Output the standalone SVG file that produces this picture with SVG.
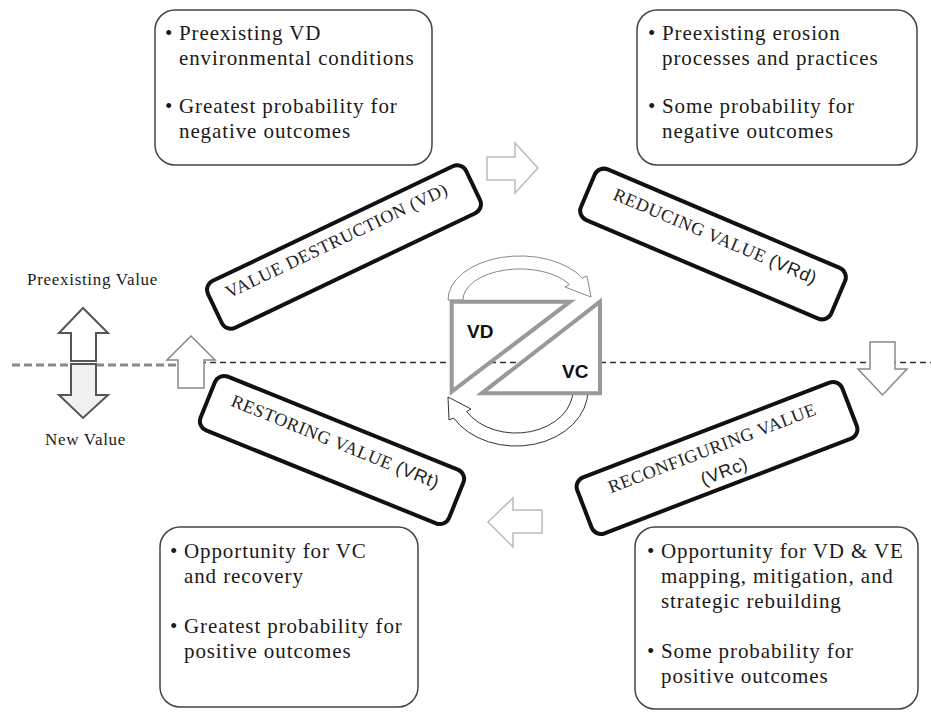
<svg xmlns="http://www.w3.org/2000/svg" width="931" height="712" viewBox="0 0 931 712">
<style>
.tb{fill:#fff;stroke:#444;stroke-width:1.5}
.t{font-family:"Liberation Serif","Times New Roman",serif;font-size:21px;letter-spacing:0.9px;fill:#1a1a1a}
.sb{fill:#fff;stroke:#111;stroke-width:4}
.st{font-family:"Liberation Serif","Times New Roman",serif;font-size:18px;letter-spacing:0.6px;fill:#222;text-anchor:middle}
.ss{font-family:"Liberation Sans",Arial,sans-serif}
.lab{font-family:"Liberation Serif","Times New Roman",serif;font-size:17px;letter-spacing:0.7px;fill:#1a1a1a}
.z{fill:#fff;stroke:#999;stroke-width:4;stroke-linejoin:miter}
.zt{font-family:"Liberation Sans",Arial,sans-serif;font-size:19px;font-weight:bold;fill:#111}
.ha{fill:#fff;stroke-width:1.5}
</style>
<rect width="931" height="712" fill="#fff"/>

<!-- baseline dashed lines -->
<g id="baseline">
<line x1="12" y1="365" x2="178" y2="365" stroke="#888" stroke-width="3" stroke-dasharray="8,4"/>
<line x1="180" y1="362.5" x2="931" y2="362.5" stroke="#333" stroke-width="1.5" stroke-dasharray="6,4"/>
</g>

<!-- text boxes -->
<g id="box-vd-conditions">
<rect class="tb" x="155" y="10" width="277" height="155" rx="20"/>
<text class="t" x="165" y="40">•</text><text class="t" x="179" y="40">Preexisting VD</text>
<text class="t" x="179" y="65">environmental conditions</text>
<text class="t" x="165" y="113">•</text><text class="t" x="179" y="113">Greatest probability for</text>
<text class="t" x="179" y="138">negative outcomes</text>
</g>
<g id="box-erosion">
<rect class="tb" x="637" y="10" width="280" height="155" rx="20"/>
<text class="t" x="648" y="40">•</text><text class="t" x="662" y="40">Preexisting erosion</text>
<text class="t" x="662" y="65">processes and practices</text>
<text class="t" x="648" y="113">•</text><text class="t" x="662" y="113">Some probability for</text>
<text class="t" x="662" y="138">negative outcomes</text>
</g>
<g id="box-recovery">
<rect class="tb" x="160" y="527" width="258" height="180" rx="20"/>
<text class="t" x="170" y="558">•</text><text class="t" x="184" y="558">Opportunity for VC</text>
<text class="t" x="184" y="583">and recovery</text>
<text class="t" x="170" y="633">•</text><text class="t" x="184" y="633">Greatest probability for</text>
<text class="t" x="184" y="658">positive outcomes</text>
</g>
<g id="box-rebuilding">
<rect class="tb" x="635" y="527" width="283" height="182" rx="20"/>
<text class="t" x="647" y="558">•</text><text class="t" x="661" y="558">Opportunity for VD &amp; VE</text>
<text class="t" x="661" y="583">mapping, mitigation, and</text>
<text class="t" x="661" y="608">strategic rebuilding</text>
<text class="t" x="647" y="658">•</text><text class="t" x="661" y="658">Some probability for</text>
<text class="t" x="661" y="683">positive outcomes</text>
</g>

<!-- stage boxes -->
<g id="stage-vd" transform="translate(344,247) rotate(-25.5)">
<rect class="sb" x="-143" y="-26" width="286" height="52" rx="10"/>
<text class="st" x="-4" y="-3">VALUE DESTRUCTION (VD)</text>
</g>
<g id="stage-vrd" transform="translate(713,244) rotate(23)">
<rect class="sb" x="-136" y="-27.5" width="272" height="55" rx="10"/>
<text class="st" x="-1" y="-2">REDUCING VALUE <tspan class="ss">(VRd)</tspan></text>
</g>
<g id="stage-vrt" transform="translate(332,450) rotate(22)">
<rect class="sb" x="-134" y="-29" width="268" height="58" rx="10"/>
<text class="st" x="0" y="-3">RESTORING VALUE <tspan class="ss">(VRt)</tspan></text>
</g>
<g id="stage-vrc" transform="translate(717,458) rotate(-21)">
<rect class="sb" x="-142" y="-30" width="284" height="60" rx="10"/>
<text class="st" x="-1" y="-5">RECONFIGURING VALUE</text>
<text class="st ss" x="2" y="21">(VRc)</text>
</g>

<!-- connectors: hollow arrows and cycle arcs -->
<g id="connectors">
<path class="ha" stroke="#bbb" d="M487,157 L515,157 L515,143 L538,168 L515,193 L515,180 L487,180 Z"/>
<path class="ha" stroke="#888" stroke-width="2" d="M870,342 L895,342 L895,369 L907,369 L882.5,395 L858,369 L870,369 Z"/>
<path class="ha" stroke="#bbb" d="M542,510 L513,510 L513,498 L488,522 L513,547 L513,533 L542,533 Z"/>
<path class="ha" stroke="#888" stroke-width="2" d="M178,388 L178,360 L167,360 L191,336 L215,360 L204,360 L204,388 Z"/>
<path fill="#fff" stroke="#555" stroke-width="2" d="M71,361 L71,333 L59,333 L83,308 L108,333 L96,333 L96,361 Z"/>
<path fill="#f0f0f0" stroke="#555" stroke-width="2" d="M71,364 L96,364 L96,395 L108,395 L83,418 L59,395 L71,395 Z"/>
<path fill="#fff" stroke="#888" stroke-width="1" d="M448,300 A72,44 0 0 1 582.4,278 L587,276 L591,297 L565,287 L569.4,284.5 A57,31 0 0 0 463,300 Z"/>
<path fill="#fff" stroke="#333" stroke-width="1" d="M588,390 A72,56 0 0 1 453.6,418 L449,420 L448,397 L471,409 L466.6,411.5 A57,43 0 0 0 573,390 Z"/>
</g>

<!-- central VD / VC diagram -->
<g id="cycle-vd">
<polygon class="z" points="451.7,301.7 570,301.7 451.7,391.7"/>
<text class="zt" x="467" y="338">VD</text>
</g>
<g id="cycle-vc">
<polygon class="z" points="600,301.7 600,393.3 481.7,393.3"/>
<text class="zt" x="562" y="378">VC</text>
</g>

<!-- side labels -->
<g id="label-preexisting"><text class="lab" x="27" y="285">Preexisting Value</text></g>
<g id="label-new"><text class="lab" x="45" y="445">New Value</text></g>
</svg>
